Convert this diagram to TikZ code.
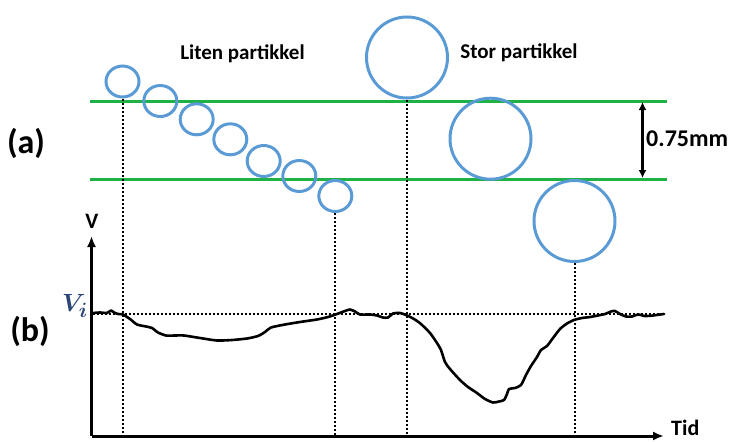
\documentclass[tikz,border=0pt]{standalone}
\usepackage{fontspec}
\setmainfont{Carlito}
\usetikzlibrary{arrows.meta,shapes.geometric}
\definecolor{bubble}{RGB}{91,155,213}
\definecolor{track}{RGB}{30,178,70}
\definecolor{vicol}{RGB}{45,70,120}
\begin{document}
\begin{tikzpicture}[x=1pt,y=-1pt,
  smallp/.style={ellipse,draw=bubble,line width=3pt,minimum width=33pt,minimum height=31pt,inner sep=0pt},
  bigp/.style={circle,draw=bubble,line width=3pt,minimum size=81pt,inner sep=0pt},
  guide/.style={line width=2pt,dotted,line cap=butt},
  greenline/.style={draw=track,line width=3pt},
  axisline/.style={line width=3pt,-{Latex[length=11pt,width=9pt]}},
  lbl/.style={font=\bfseries\fontsize{21}{25}\selectfont,inner sep=0pt},
  biglbl/.style={font=\bfseries\fontsize{34}{40}\selectfont,inner sep=0pt}]
\useasboundingbox (0,0) rectangle (732,442);
% track lines
\coordinate (g1l) at (90,101); \coordinate (g1r) at (667,101);
\coordinate (g2l) at (90,179); \coordinate (g2r) at (667,179);
\draw[greenline] (g1l) -- (g1r);
\draw[greenline] (g2l) -- (g2r);
% small particle
\node[smallp] (s1) at (122.5,81.5) {};
\node[smallp] (s2) at (160.3,101) {};
\node[smallp] (s3) at (196.7,119.3) {};
\node[smallp] (s4) at (230.3,139.3) {};
\node[smallp] (s5) at (263.7,161) {};
\node[smallp] (s6) at (299.3,176) {};
\node[smallp] (s7) at (335.3,196) {};
% big particle
\node[bigp] (b1) at (407,57.5) {};
\node[bigp] (b2) at (490.5,138.7) {};
\node[bigp] (b3) at (574.5,221) {};
% axes
\coordinate (o) at (91.5,436);
\coordinate (ytip) at (91.5,236);
\coordinate (xtip) at (664,436);
% guide lines
\coordinate (t1) at (122.5,436);
\coordinate (t2) at (335.3,436);
\coordinate (t3) at (407,436);
\coordinate (t4) at (574.5,436);
\draw[guide] (s1.south) -- (t1);
\draw[guide] (s7.south) -- (t2);
\draw[guide] (b1.south) -- (t3);
\draw[guide] (b3.south) -- (t4);
\coordinate (vl) at (93,314.3); \coordinate (vr) at (665,314.3);
\draw[guide] (vl) -- (vr);
\draw[axisline] (o) -- (ytip);
\draw[axisline] (o) -- (xtip);
% signal
\draw[line width=2.6pt,line join=round,line cap=round] plot[smooth,tension=0.4] coordinates {
(93,313) (100,312.5) (107,313) (111,310.5) (114,312.5) (118,314) (123,314.5) (130,319) (137,324.5) (146,326.5) (152,328) (158,332.5) (166,335.5) (175,335.5) (184,335.5) (200,338) (217,340.5) (232,340) (247,338.5) (258,336) (265,332) (271,327.5) (285,324.5) (300,322) (317,319.5) (328,317) (337,314) (345,311) (350,309.5) (355,311.5) (360,314.5) (370,314.5) (377,315.5) (383,317.5) (388,317.5) (393,313.5) (400,313) (406,315) (414,319) (421,324) (430,333) (437,343) (441,350) (445,362) (450,369) (460,380) (468,387) (477,393) (485,399) (493,402.5) (499,401.5) (504,400) (507,394) (509,389) (515,388) (521,385) (526,375) (531,366) (537,357) (541,350) (547,346) (553,338) (560,329) (567,323.5) (574,320) (582,318) (590,317) (598,315.5) (605,314) (611,311.5) (615,311) (620,314) (626,316.5) (632,316.5) (638,314.5) (645,316) (653,315.5) (660,314.5) (664,314)};
% dimension arrow
\coordinate (d1) at (642.5,102); \coordinate (d2) at (642.5,178);
\draw[line width=2.2pt,{Latex[length=8pt,width=8pt]}-{Latex[length=8pt,width=8pt]}] (d1) -- (d2);
% labels
\node[biglbl] (la) at (26,143) {(a)};
\node[biglbl] (lb) at (30,331) {(b)};
\node[lbl] (liten) at (242.5,54) {Liten partikkel};
\node[lbl] (stor) at (519,53) {Stor partikkel};
\node[lbl,anchor=west,font=\bfseries\fontsize{24}{28}\selectfont] (mm) at (646,139) {0.75mm};
\node[lbl,font=\bfseries\fontsize{22}{26}\selectfont] (vlab) at (92,221) {V};
\node[lbl,anchor=west,font=\bfseries\fontsize{22}{26}\selectfont] (tid) at (671,428) {Tid};
\node[inner sep=0pt,text=vicol,font=\fontsize{28}{32}\selectfont\boldmath] (vi) at (75,306) {$V_i$};
\end{tikzpicture}
\end{document}
